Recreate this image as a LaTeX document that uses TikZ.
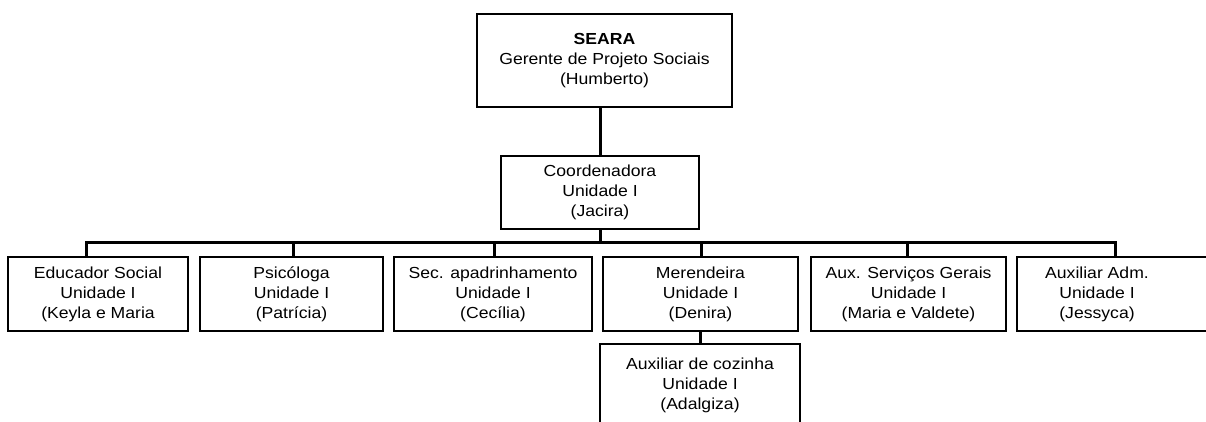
\documentclass[tikz,border=0pt]{standalone}
\usepackage{fontspec}
\setmainfont[FakeStretch=1.1]{Liberation Sans}
\begin{document}
\begin{tikzpicture}[x=1pt,y=-1pt,
  txt/.style={align=center, font=\fontsize{16}{20}\selectfont, inner sep=0pt},
  box/.style={txt, draw, line width=2.2pt},
  link/.style={line width=3pt}]
\useasboundingbox (0,0) rectangle (1206,421);
\clip (0,0) rectangle (1206,421);
\node[box, minimum width=255pt, minimum height=93pt] (top) at (604.5,60.5)
  {\textbf{SEARA}\\Gerente de Projeto Sociais\\(Humberto)};
\node[box, minimum width=198pt, minimum height=73pt] (mid) at (600,192.5)
  {Coordenadora\\Unidade I\\(Jacira)};
\node[box, minimum width=180pt, minimum height=74pt] (b1) at (98,294)
  {Educador Social\\Unidade I\\(Keyla e Maria};
\node[box, minimum width=183pt, minimum height=74pt] (b2) at (291.5,294)
  {Psicóloga\\Unidade I\\(Patrícia)};
\node[box, minimum width=198pt, minimum height=74pt] (b3) at (493,294)
  {Sec. apadrinhamento\\Unidade I\\(Cecília)};
\node[box, minimum width=195pt, minimum height=74pt] (b4) at (700.5,294)
  {Merendeira\\Unidade I\\(Denira)};
\node[box, minimum width=195pt, minimum height=74pt] (b5) at (908.5,294)
  {Aux. Serviços Gerais\\Unidade I\\(Maria e Valdete)};
\node[box, minimum width=200pt, minimum height=74pt] (b6) at (1117,294) {};
\node[txt] (b6t) at (1097,294) {Auxiliar Adm.\\Unidade I\\(Jessyca)};
\node[box, minimum width=200pt, minimum height=82pt] (b7) at (700,385)
  {Auxiliar de cozinha\\Unidade I\\(Adalgiza)};
\coordinate (bus) at (600,242);
\coordinate (d1) at (86,242);
\coordinate (d2) at (293,242);
\coordinate (d3) at (494,242);
\coordinate (d4) at (701,242);
\coordinate (d5) at (907,242);
\coordinate (d6) at (1115,242);
\draw[link] (mid.north) -- (mid.north |- top.south);
\draw[link] (mid.south) -- (bus);
\draw[link] (d1 |- b1.north) -- (d1) -- (d6) -- (d6 |- b6.north);
\draw[link] (d2) -- (d2 |- b2.north);
\draw[link] (d3) -- (d3 |- b3.north);
\draw[link] (d4) -- (d4 |- b4.north);
\draw[link] (d5) -- (d5 |- b5.north);
\draw[link] (b7.north |- b4.south) -- (b7.north);
\end{tikzpicture}
\end{document}
